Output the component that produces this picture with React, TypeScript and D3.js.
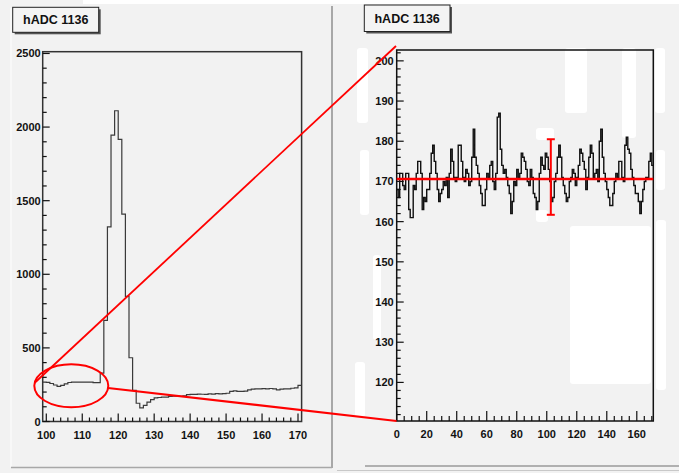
import * as d3 from "d3";

const W = 679;
const H = 473;

// left histogram: bins of width 1 starting at 99
const leftStart = 99;
const leftCounts = [
  268, 266, 258, 248, 238, 245, 255, 265, 268, 268, 268, 268, 268, 268, 264, 264,
  328, 687, 1322, 1945, 2111, 1916, 1408, 850, 433, 211, 124, 93, 109, 131, 148, 161,
  163, 165, 166, 170, 172, 172, 171, 174, 182, 184, 184, 186, 185, 184, 188, 186,
  190, 188, 190, 192, 205, 208, 204, 205, 206, 215, 220, 222, 221, 223, 222, 224,
  222, 215, 220, 222, 221, 226, 228, 245,
];
const leftXTicks = [100, 110, 120, 130, 140, 150, 160, 170];
const leftYTicks = [0, 500, 1000, 1500, 2000, 2500];

// right histogram: zoom of the pedestal, bins of width 1 starting at 0
const rightStart = 0;
const rightCounts = [
  168, 166, 172, 172, 169, 168, 172, 172, 163, 161, 161, 169, 168, 172, 175, 175,
  172, 163, 166, 165, 168, 168, 172, 177, 179, 175, 172, 168, 165, 167, 168, 170,
  169, 171, 166, 172, 178, 175, 171, 170, 171, 179, 179, 175, 171, 170, 173, 172,
  169, 170, 176, 183, 176, 174, 172, 169, 167, 164, 164, 168, 172, 171, 174, 175,
  170, 168, 172, 186, 187, 178, 174, 172, 173, 171, 169, 167, 162, 165, 170, 169,
  173, 171, 172, 177, 176, 175, 173, 170, 169, 173, 171, 167, 166, 163, 165, 172,
  176, 174, 173, 177, 176, 173, 170, 165, 166, 170, 172, 176, 179, 176, 171, 169,
  167, 165, 166, 170, 171, 173, 172, 169, 171, 174, 178, 177, 175, 173, 168, 171,
  176, 179, 177, 171, 172, 173, 170, 180, 183, 176, 172, 170, 168, 166, 164, 164,
  167, 170, 172, 171, 175, 175, 171, 170, 179, 181, 178, 177, 173, 171, 169, 167,
  167, 165, 162, 165, 168, 170, 171, 171, 175, 177, 174,
];
const rightXTicks = [0, 20, 40, 60, 80, 100, 120, 140, 160];
const rightYTicks = [120, 130, 140, 150, 160, 170, 180, 190, 200];

const fitMean = 170.6;
const fitBarX = 102.7;
const fitBarLo = 161.7;
const fitBarHi = 180.5;

const title = "hADC 1136";
const font = "'Liberation Sans', Arial, sans-serif";

function stepPath(x: any, y: any, start: number, counts: number[]) {
  let d = "";
  counts.forEach((c, i) => {
    const yy = y(c);
    d += `${i === 0 ? "M" : "L"}${x(start + i)},${yy}L${x(start + i + 1)},${yy}`;
  });
  return d;
}

function TitleBox({ x, y, w, h }: { x: number; y: number; w: number; h: number }) {
  return (
    <g>
      <rect x={x + 2} y={y + 2} width={w} height={h} fill="#555" />
      <rect x={x} y={y} width={w} height={h} fill="#f4f4f4" stroke="#222" strokeWidth={1} />
      <text x={x + w / 2} y={y + h / 2 + 4.5} textAnchor="middle" fontFamily={font} fontWeight="bold" fontSize={12.5} fill="#111">
        {title}
      </text>
    </g>
  );
}

export default function App() {
  // left panel
  const lx = d3.scaleLinear().domain([99, 171]).range([42.7, 301.6]);
  const ly = d3.scaleLinear().domain([0, 2512]).range([421.5, 51.7]);
  // right panel
  const rx = d3.scaleLinear().domain([0, 171]).range([396.7, 653.3]);
  const ry = d3.scaleLinear().domain([110.4, 202.7]).range([421, 50]);

  const lxMinor = d3.range(100, 171, 2).filter((v) => v % 10 !== 0);
  const lyMinor = d3.range(0, 2501, 100).filter((v) => v % 500 !== 0);
  const rxMinor = d3.range(0, 171, 5).filter((v) => v % 20 !== 0);
  const ryMinor = d3.range(112, 203, 2).filter((v) => v % 10 !== 0);

  const tickStyle = { stroke: "#111", strokeWidth: 1.2 };
  const labelProps = { fontFamily: font, fontWeight: "bold" as const, fontSize: 11, fill: "#111" };

  // image artefacts (white brush strokes) in the right pad
  const blotches = [
    [357, 48, 11, 75], [360, 150, 9, 65], [373, 255, 8, 85], [355, 362, 10, 55],
    [565, 48, 22, 65], [622, 48, 14, 90], [536, 128, 18, 12], [536, 210, 12, 12],
    [570, 226, 81, 158], [655, 48, 10, 65], [656, 150, 9, 40], [656, 220, 10, 170],
  ];

  return (
    <svg width={W} height={H} style={{ position: "fixed", left: 0, top: 0, display: "block" }}>
      <rect x={0} y={0} width={W} height={H} fill="#f2f2f2" />
      <rect x={83} y={0} width={W - 83} height={4} fill="#fff" />
      <line x1={11} y1={8} x2={11} y2={467} stroke="#fafafa" strokeWidth={1.5} />
      <line x1={332} y1={6} x2={332} y2={468} stroke="#a0a0a0" strokeWidth={1.8} />
      <line x1={11} y1={467.5} x2={332} y2={467.5} stroke="#a8a8a8" strokeWidth={1.5} />
      <line x1={365} y1={466} x2={W} y2={466} stroke="#9a9a9a" strokeWidth={1.5} />
      <line x1={337} y1={470.5} x2={W} y2={470.5} stroke="#c8c8c8" strokeWidth={1} />

      {blotches.map(([x, y, w, h], i) => (
        <rect key={i} x={x} y={y} width={w} height={h} rx={3} fill="#fff" />
      ))}

      {/* left pad */}
      <rect x={lx(99)} y={ly(2512)} width={lx(171) - lx(99)} height={ly(0) - ly(2512)} fill="none" stroke="#333" strokeWidth={1.5} />
      {leftXTicks.map((t) => (
        <g key={t}>
          <line x1={lx(t)} x2={lx(t)} y1={ly(0)} y2={ly(0) - 8} {...tickStyle} />
          <text x={lx(t)} y={439} textAnchor="middle" {...labelProps}>{t}</text>
        </g>
      ))}
      {lxMinor.map((t) => (
        <line key={t} x1={lx(t)} x2={lx(t)} y1={ly(0)} y2={ly(0) - 4} {...tickStyle} />
      ))}
      {leftYTicks.map((t) => (
        <g key={t}>
          <line x1={lx(99)} x2={lx(99) + 7} y1={ly(t)} y2={ly(t)} {...tickStyle} />
          <text x={lx(99) - 2} y={ly(t) + 4} textAnchor="end" {...labelProps}>{t}</text>
        </g>
      ))}
      {lyMinor.map((t) => (
        <line key={t} x1={lx(99)} x2={lx(99) + 4} y1={ly(t)} y2={ly(t)} {...tickStyle} />
      ))}
      <path d={stepPath(lx, ly, leftStart, leftCounts)} fill="none" stroke="#3a3a3a" strokeWidth={1.2} />
      <TitleBox x={12.7} y={7.3} w={86} h={25} />

      {/* right pad */}
      <rect x={rx(0)} y={ry(202.7)} width={rx(171) - rx(0)} height={ry(110.4) - ry(202.7)} fill="none" stroke="#111" strokeWidth={1.5} />
      {rightXTicks.map((t) => (
        <g key={t}>
          <line x1={rx(t)} x2={rx(t)} y1={ry(110.4)} y2={ry(110.4) - 10} {...tickStyle} />
          <text x={rx(t)} y={437.5} textAnchor="middle" {...labelProps}>{t}</text>
        </g>
      ))}
      {rxMinor.map((t) => (
        <line key={t} x1={rx(t)} x2={rx(t)} y1={ry(110.4)} y2={ry(110.4) - 5} {...tickStyle} />
      ))}
      {rightYTicks.map((t) => (
        <g key={t}>
          <line x1={rx(0)} x2={rx(0) + 7} y1={ry(t)} y2={ry(t)} {...tickStyle} />
          <text x={rx(0) - 3} y={ry(t) + 4} textAnchor="end" {...labelProps}>{t}</text>
        </g>
      ))}
      {ryMinor.map((t) => (
        <line key={t} x1={rx(0)} x2={rx(0) + 4} y1={ry(t)} y2={ry(t)} {...tickStyle} />
      ))}
      <path d={stepPath(rx, ry, rightStart, rightCounts)} fill="none" stroke="#111" strokeWidth={1.4} />
      <line x1={rx(0)} x2={rx(171)} y1={ry(fitMean)} y2={ry(fitMean)} stroke="#f00" strokeWidth={2.5} />
      <line x1={rx(fitBarX)} x2={rx(fitBarX)} y1={ry(fitBarLo)} y2={ry(fitBarHi)} stroke="#f00" strokeWidth={2} />
      <line x1={rx(fitBarX) - 4} x2={rx(fitBarX) + 4} y1={ry(fitBarLo)} y2={ry(fitBarLo)} stroke="#f00" strokeWidth={2} />
      <line x1={rx(fitBarX) - 4} x2={rx(fitBarX) + 4} y1={ry(fitBarHi)} y2={ry(fitBarHi)} stroke="#f00" strokeWidth={2} />
      <TitleBox x={364.3} y={5} w={85.7} h={26.5} />

      {/* zoom annotation */}
      <ellipse cx={71.3} cy={385.8} rx={37} ry={21.5} fill="none" stroke="#f00" strokeWidth={2} />
      <line x1={34.5} y1={383} x2={396} y2={46} stroke="#f00" strokeWidth={1.8} />
      <line x1={108} y1={388} x2={396.5} y2={421} stroke="#f00" strokeWidth={2.2} />
    </svg>
  );
}
